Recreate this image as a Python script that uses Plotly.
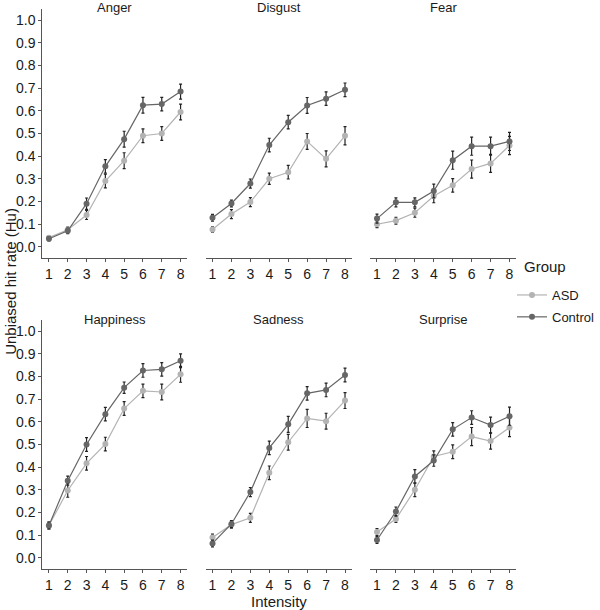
import plotly.graph_objects as go

intensity = [1, 2, 3, 4, 5, 6, 7, 8]
emotions = ["Anger", "Disgust", "Fear", "Happiness", "Sadness", "Surprise"]

asd_mean = {
    "Anger": [0.040, 0.075, 0.140, 0.290, 0.380, 0.490, 0.500, 0.595],
    "Disgust": [0.076, 0.144, 0.197, 0.300, 0.329, 0.465, 0.388, 0.490],
    "Fear": [0.099, 0.115, 0.150, 0.224, 0.271, 0.343, 0.368, 0.447],
    "Happiness": [0.142, 0.297, 0.417, 0.502, 0.659, 0.737, 0.732, 0.810],
    "Sadness": [0.089, 0.146, 0.176, 0.375, 0.510, 0.615, 0.603, 0.694],
    "Surprise": [0.113, 0.171, 0.300, 0.447, 0.468, 0.535, 0.515, 0.575],
}
asd_err = {
    "Anger": [0.008, 0.012, 0.020, 0.030, 0.035, 0.030, 0.030, 0.035],
    "Disgust": [0.012, 0.020, 0.020, 0.025, 0.030, 0.035, 0.035, 0.040],
    "Fear": [0.015, 0.015, 0.020, 0.030, 0.030, 0.040, 0.040, 0.040],
    "Happiness": [0.015, 0.030, 0.030, 0.030, 0.030, 0.030, 0.035, 0.035],
    "Sadness": [0.015, 0.015, 0.020, 0.030, 0.035, 0.040, 0.035, 0.035],
    "Surprise": [0.015, 0.015, 0.030, 0.025, 0.030, 0.040, 0.035, 0.040],
}
control_mean = {
    "Anger": [0.035, 0.070, 0.190, 0.355, 0.475, 0.625, 0.630, 0.685],
    "Disgust": [0.128, 0.191, 0.279, 0.449, 0.550, 0.624, 0.654, 0.693],
    "Fear": [0.124, 0.196, 0.196, 0.246, 0.382, 0.444, 0.444, 0.465],
    "Happiness": [0.142, 0.340, 0.500, 0.634, 0.751, 0.827, 0.832, 0.870],
    "Sadness": [0.063, 0.149, 0.290, 0.485, 0.589, 0.726, 0.741, 0.807],
    "Surprise": [0.078, 0.204, 0.359, 0.429, 0.567, 0.619, 0.586, 0.625],
}
control_err = {
    "Anger": [0.010, 0.012, 0.025, 0.030, 0.035, 0.035, 0.030, 0.033],
    "Disgust": [0.015, 0.015, 0.020, 0.030, 0.030, 0.035, 0.030, 0.030],
    "Fear": [0.020, 0.020, 0.020, 0.030, 0.040, 0.040, 0.040, 0.040],
    "Happiness": [0.015, 0.020, 0.030, 0.030, 0.025, 0.030, 0.030, 0.030],
    "Sadness": [0.015, 0.015, 0.020, 0.030, 0.035, 0.030, 0.030, 0.030],
    "Surprise": [0.015, 0.020, 0.030, 0.025, 0.030, 0.030, 0.035, 0.040],
}
y_ticks = [0.0, 0.1, 0.2, 0.3, 0.4, 0.5, 0.6, 0.7, 0.8, 0.9, 1.0]

_ASD = "#b3b3b3"
_CONTROL = "#666666"
_AXIS = "#555555"
_TEXT = "#1a1a1a"
_FONT = "Liberation Sans, Arial, sans-serif"

W, H = 600, 610
col_px = [(43, 190), (209, 357), (376, 524)]
row_px = [(9, 258), (320, 569)]

fig = go.Figure()
layout = {}

for i, emo in enumerate(emotions):
    r, c = divmod(i, 3)
    n = "" if i == 0 else str(i + 1)
    xref, yref = "x" + n, "y" + n
    for name, means, errs, color in (
        ("ASD", asd_mean, asd_err, _ASD),
        ("Control", control_mean, control_err, _CONTROL),
    ):
        fig.add_trace(go.Scatter(
            x=intensity, y=means[emo], name=name, legendgroup=name,
            showlegend=(i == 0), mode="lines+markers",
            line={"color": color, "width": 1.2},
            marker={"color": color, "size": 6},
            error_y={"type": "data", "array": errs[emo], "color": "#222222",
                     "thickness": 1.2, "width": 1.5},
            xaxis=xref, yaxis=yref,
        ))

    x0, x1 = col_px[c]
    y0, y1 = row_px[r]
    left = c == 0
    layout["xaxis" + n] = dict(
        domain=[x0 / W, x1 / W], anchor=yref, range=[0.65, 8.35],
        tickvals=intensity, showgrid=False, zeroline=False, automargin=False,
        showline=True, linecolor=_AXIS, linewidth=1,
        ticks="outside", ticklen=3, tickcolor=_AXIS,
        tickfont={"size": 14, "color": _TEXT},
    )
    layout["yaxis" + n] = dict(
        domain=[1 - y1 / H, 1 - y0 / H], anchor=xref, range=[-0.05, 1.05],
        tickvals=y_ticks, tickformat=".1f", showgrid=False, zeroline=False,
        automargin=False, showline=left, linecolor=_AXIS, linewidth=1,
        ticks="outside" if left else "", ticklen=3, tickcolor=_AXIS,
        showticklabels=left, tickfont={"size": 14, "color": _TEXT},
    )
    fig.add_annotation(
        text=emo, x=(x0 + x1) / 2 / W, y=1 - (y0 - 1) / H,
        xref="paper", yref="paper", showarrow=False,
        xanchor="center", yanchor="middle", font={"size": 13, "color": _TEXT},
    )

fig.add_annotation(
    text="Unbiased hit rate (Hu)", x=10 / W, y=1 - 281 / H, xref="paper", yref="paper",
    textangle=-90, showarrow=False, xanchor="center", yanchor="middle",
    font={"size": 15, "color": _TEXT},
)
fig.add_annotation(
    text="Intensity", x=283 / W, y=1 - 601 / H, xref="paper", yref="paper",
    showarrow=False, xanchor="center", yanchor="middle",
    font={"size": 15, "color": _TEXT},
)
fig.add_annotation(
    text="Group", x=530 / W, y=1 - 266 / H, xref="paper", yref="paper",
    showarrow=False, xanchor="left", yanchor="middle",
    font={"size": 15, "color": _TEXT},
)

fig.update_layout(
    **layout,
    width=W, height=H,
    margin={"l": 0, "r": 0, "t": 0, "b": 0},
    font={"family": _FONT, "size": 13, "color": _TEXT},
    plot_bgcolor="white", paper_bgcolor="white",
    legend={"x": 520 / W, "y": 1 - 280 / H, "xanchor": "left", "yanchor": "top",
            "font": {"size": 13}, "itemwidth": 30, "tracegroupgap": 2},
)

# page body has an 8px default margin; drop it so the figure sits at (0, 0)
fig.write_html("out.html", config={"displayModeBar": False},
               post_script="document.body.style.margin = '0';")
